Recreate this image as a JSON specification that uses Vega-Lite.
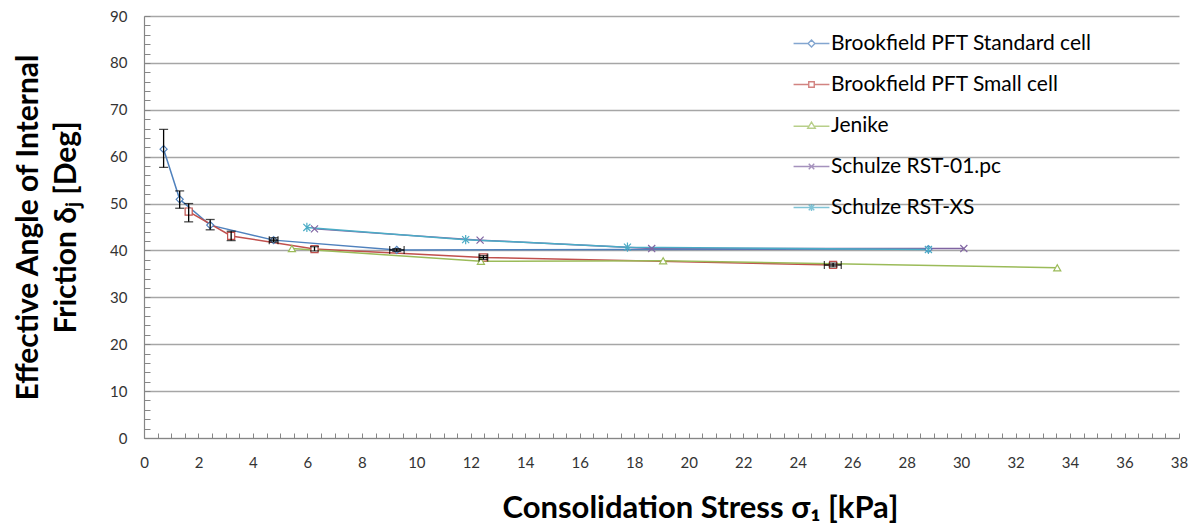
{
  "$schema": "https://vega.github.io/schema/vega-lite/v6.json",
  "width": 1035,
  "height": 422,
  "autosize": {"type": "none"},
  "padding": {"left": 144, "top": 16, "right": 14, "bottom": 92},
  "background": "white",
  "config": {
    "font": "Lato",
    "view": {"stroke": null},
    "scale": {"continuousPadding": 0},
    "legend": {
      "orient": "none",
      "legendX": 657,
      "legendY": 17,
      "padding": 0,
      "rowPadding": 19,
      "labelFont": "Lato",
      "labelFontSize": 21,
      "labelColor": "#000000",
      "labelOffset": 9,
      "labelLimit": 400,
      "symbolSize": 190,
      "symbolStrokeWidth": 1.4,
      "title": null
    }
  },
  "datasets": {
    "pts": [
      {"series": "Brookfield PFT Standard cell", "x": 0.72, "y": 61.6},
      {"series": "Brookfield PFT Standard cell", "x": 1.31, "y": 50.9},
      {"series": "Brookfield PFT Standard cell", "x": 2.43, "y": 45.4},
      {"series": "Brookfield PFT Standard cell", "x": 4.76, "y": 42.2},
      {"series": "Brookfield PFT Standard cell", "x": 9.28, "y": 40.1},
      {"series": "Brookfield PFT Standard cell", "x": 28.8, "y": 40.3},
      {"series": "Brookfield PFT Small cell", "x": 1.64, "y": 48.3},
      {"series": "Brookfield PFT Small cell", "x": 3.2, "y": 43.1},
      {"series": "Brookfield PFT Small cell", "x": 6.26, "y": 40.3},
      {"series": "Brookfield PFT Small cell", "x": 12.46, "y": 38.5},
      {"series": "Brookfield PFT Small cell", "x": 25.3, "y": 36.9},
      {"series": "Jenike", "x": 5.43, "y": 40.4},
      {"series": "Jenike", "x": 12.37, "y": 37.7},
      {"series": "Jenike", "x": 19.06, "y": 37.8},
      {"series": "Jenike", "x": 33.53, "y": 36.3},
      {"series": "Schulze RST-01.pc", "x": 6.26, "y": 44.6},
      {"series": "Schulze RST-01.pc", "x": 12.34, "y": 42.2},
      {"series": "Schulze RST-01.pc", "x": 18.64, "y": 40.4},
      {"series": "Schulze RST-01.pc", "x": 30.1, "y": 40.4},
      {"series": "Schulze RST-XS", "x": 5.98, "y": 44.9},
      {"series": "Schulze RST-XS", "x": 11.81, "y": 42.3},
      {"series": "Schulze RST-XS", "x": 17.75, "y": 40.7},
      {"series": "Schulze RST-XS", "x": 28.8, "y": 40.2}
    ],
    "ey": [
      {"x": 0.72, "lo": 57.7, "hi": 65.8},
      {"x": 1.31, "lo": 49.0, "hi": 52.7},
      {"x": 2.43, "lo": 44.4, "hi": 46.6},
      {"x": 4.76, "lo": 41.8, "hi": 42.7},
      {"x": 9.28, "lo": 39.8, "hi": 40.4},
      {"x": 1.64, "lo": 46.1, "hi": 50.0},
      {"x": 3.2, "lo": 42.1, "hi": 44.1},
      {"x": 6.26, "lo": 39.9, "hi": 40.8},
      {"x": 12.46, "lo": 38.1, "hi": 38.9},
      {"x": 25.3, "lo": 36.5, "hi": 37.3}
    ],
    "ex": [
      {"y": 42.2, "lo": 4.6, "hi": 4.92},
      {"y": 40.1, "lo": 9.02, "hi": 9.55},
      {"y": 38.5, "lo": 12.3, "hi": 12.62},
      {"y": 36.9, "lo": 24.98, "hi": 25.6}
    ],
    "empty": []
  },
  "resolve": {
    "axis": {"x": "independent", "y": "independent"},
    "scale": {"shape": "independent", "color": "independent"}
  },
  "layer": [
    {
      "data": {"name": "pts"},
      "mark": {"type": "line", "strokeWidth": 1.5},
      "encoding": {
        "x": {
          "field": "x", "type": "quantitative",
          "scale": {"domain": [0, 38], "nice": false, "zero": false, "padding": 0},
          "axis": {
            "values": [0, 2, 4, 6, 8, 10, 12, 14, 16, 18, 20, 22, 24, 26, 28, 30, 32, 34, 36, 38],
            "grid": false, "ticks": false, "labelFlush": false,
            "domain": true, "domainColor": "#868686", "domainWidth": 1.2,
            "labelFontSize": 15, "labelColor": "#333333", "labelPadding": 17,
            "labelFont": "Lato",
            "title": "Consolidation Stress σ₁ [kPa]",
            "titleFont": "Lato", "titleFontSize": 31, "titleFontWeight": "bold",
            "titleColor": "#000000", "titlePadding": 23,
            "titleX": 556, "titleAlign": "center"
          }
        },
        "y": {
          "field": "y", "type": "quantitative",
          "scale": {"domain": [0, 90], "nice": false, "zero": false, "padding": 0},
          "axis": {
            "values": [0, 10, 20, 30, 40, 50, 60, 70, 80, 90],
            "grid": true, "gridColor": "#a6a6a6", "gridWidth": 1.3,
            "ticks": false, "labelFlush": false,
            "domain": true, "domainColor": "#868686", "domainWidth": 1.2,
            "labelFontSize": 15, "labelColor": "#333333", "labelPadding": 17,
            "labelFont": "Lato",
            "title": ["Effective Angle of Internal", "Friction δⱼ [Deg]"],
            "titleFont": "Lato", "titleFontSize": 30, "titleFontWeight": "bold",
            "titleColor": "#000000", "titlePadding": 28, "titleLineHeight": 38
          }
        },
        "color": {
          "field": "series", "type": "nominal",
          "scale": {
            "domain": ["Brookfield PFT Standard cell", "Brookfield PFT Small cell", "Jenike", "Schulze RST-01.pc", "Schulze RST-XS"],
            "range": ["#4F81BD", "#C0504D", "#9BBB59", "#8064A2", "#4BACC6"]
          },
          "legend": null
        }
      }
    },
    {
      "data": {"name": "pts"},
      "mark": {"type": "point", "filled": false, "fill": "white", "size": 50, "strokeWidth": 1.2, "opacity": 1},
      "encoding": {
        "x": {
          "field": "x", "type": "quantitative",
          "scale": {"padding": 0},
          "axis": {
            "orient": "top", "offset": -422,
            "values": [0, 0.5, 1, 1.5, 2, 2.5, 3, 3.5, 4, 4.5, 5, 5.5, 6, 6.5, 7, 7.5, 8, 8.5, 9, 9.5, 10, 10.5, 11, 11.5, 12, 12.5, 13, 13.5, 14, 14.5, 15, 15.5, 16, 16.5, 17, 17.5, 18, 18.5, 19, 19.5, 20, 20.5, 21, 21.5, 22, 22.5, 23, 23.5, 24, 24.5, 25, 25.5, 26, 26.5, 27, 27.5, 28, 28.5, 29, 29.5, 30, 30.5, 31, 31.5, 32, 32.5, 33, 33.5, 34, 34.5, 35, 35.5, 36, 36.5, 37, 37.5, 38],
            "grid": false, "labels": false, "domain": false, "ticks": true,
            "tickSize": 5, "tickColor": "#868686", "tickWidth": 1, "title": null
          }
        },
        "y": {
          "field": "y", "type": "quantitative",
          "scale": {"padding": 0},
          "axis": {
            "orient": "right", "offset": -1035,
            "values": [0, 2, 4, 6, 8, 10, 12, 14, 16, 18, 20, 22, 24, 26, 28, 30, 32, 34, 36, 38, 40, 42, 44, 46, 48, 50, 52, 54, 56, 58, 60, 62, 64, 66, 68, 70, 72, 74, 76, 78, 80, 82, 84, 86, 88, 90],
            "grid": false, "labels": false, "domain": false, "ticks": true,
            "tickSize": 6, "tickColor": "#868686", "tickWidth": 1, "title": null
          }
        },
        "color": {
          "field": "series", "type": "nominal",
          "scale": {
            "domain": ["Brookfield PFT Standard cell", "Brookfield PFT Small cell", "Jenike", "Schulze RST-01.pc", "Schulze RST-XS"],
            "range": ["#4F81BD", "#C0504D", "#9BBB59", "#8064A2", "#4BACC6"]
          },
          "legend": null
        },
        "shape": {
          "field": "series", "type": "nominal",
          "scale": {
            "domain": ["Brookfield PFT Standard cell", "Brookfield PFT Small cell", "Jenike", "Schulze RST-01.pc", "Schulze RST-XS"],
            "range": ["diamond", "square", "triangle-up", "M-1,-1L1,1M-1,1L1,-1", "M-1,-1L1,1M-1,1L1,-1M0,-1.3V1.3"]
          },
          "legend": null
        }
      }
    },
    {
      "data": {"name": "ey"},
      "mark": {"type": "errorbar", "color": "black", "ticks": {"size": 9, "thickness": 1.3}, "rule": {"strokeWidth": 1.3}},
      "encoding": {
        "x": {"field": "x", "type": "quantitative", "axis": null, "scale": {"padding": 0}},
        "y": {"field": "lo", "type": "quantitative", "axis": null, "scale": {"padding": 0}},
        "y2": {"field": "hi"}
      }
    },
    {
      "data": {"name": "ex"},
      "mark": {"type": "errorbar", "color": "black", "ticks": {"size": 8, "thickness": 1.3}, "rule": {"strokeWidth": 1.3}},
      "encoding": {
        "y": {"field": "y", "type": "quantitative", "axis": null, "scale": {"padding": 0}},
        "x": {"field": "lo", "type": "quantitative", "axis": null, "scale": {"padding": 0}},
        "x2": {"field": "hi"}
      }
    },
    {
      "data": {"name": "empty"},
      "mark": {"type": "point", "filled": false, "strokeWidth": 1.4},
      "encoding": {
        "color": {
          "field": "series", "type": "nominal",
          "scale": {
            "domain": ["Brookfield PFT Standard cell", "Brookfield PFT Small cell", "Jenike", "Schulze RST-01.pc", "Schulze RST-XS"],
            "range": ["#4F81BD", "#C0504D", "#9BBB59", "#8064A2", "#4BACC6"]
          }
        },
        "shape": {
          "field": "series", "type": "nominal",
          "scale": {
            "domain": ["Brookfield PFT Standard cell", "Brookfield PFT Small cell", "Jenike", "Schulze RST-01.pc", "Schulze RST-XS"],
            "range": [
              "M-2.6,0H-0.5M0.5,0H2.6M0,-0.5L0.5,0L0,0.5L-0.5,0Z",
              "M-2.6,0H-0.4M0.4,0H2.6M-0.4,-0.4H0.4V0.4H-0.4Z",
              "M-2.6,0.1H-0.35M0.35,0.1H2.6M0,-0.5L0.55,0.4L-0.55,0.4Z",
              "M-2.6,0H2.6M-0.4,-0.4L0.4,0.4M-0.4,0.4L0.4,-0.4",
              "M-2.6,0H2.6M-0.4,-0.4L0.4,0.4M-0.4,0.4L0.4,-0.4M0,-0.5V0.5"
            ]
          }
        }
      }
    }
  ]
}
